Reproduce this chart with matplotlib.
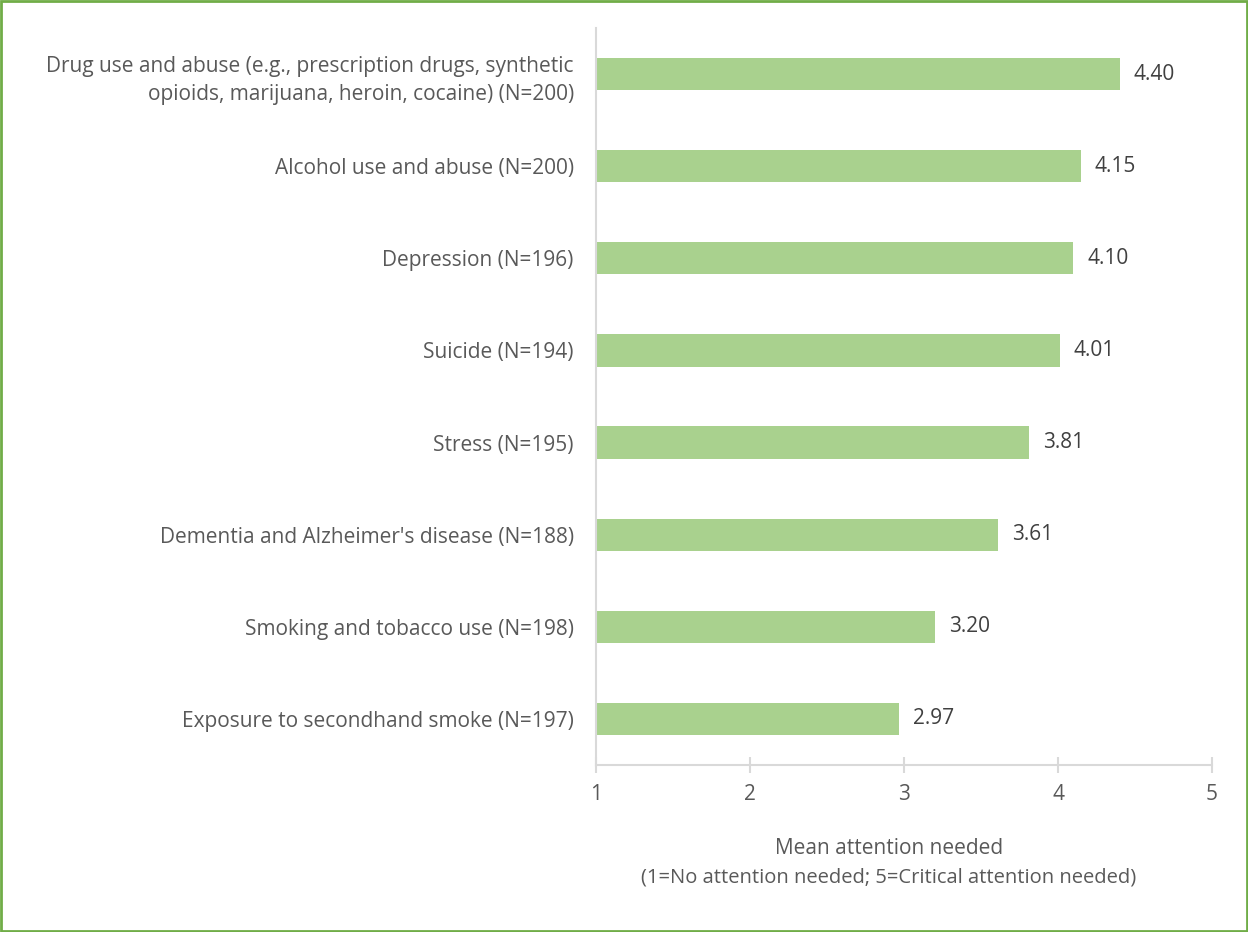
import matplotlib.pyplot as plt
from matplotlib.patches import Rectangle

# Data: mean attention needed per issue
labels = [
    'Drug use and abuse (e.g., prescription drugs, synthetic\nopioids, marijuana, heroin, cocaine) (N=200)',
    'Alcohol use and abuse (N=200)',
    'Depression (N=196)',
    'Suicide (N=194)',
    'Stress (N=195)',
    "Dementia and Alzheimer's disease (N=188)",
    'Smoking and tobacco use (N=198)',
    'Exposure to secondhand smoke (N=197)',
]
values = [4.40, 4.15, 4.10, 4.01, 3.81, 3.61, 3.20, 2.97]
xticks = [1, 2, 3, 4, 5]

plt.rcParams['font.family'] = ['Open Sans', 'DejaVu Sans']
text_color = '#595959'
axis_color = '#D9D9D9'
fs = 15

fig = plt.figure(figsize=(12.48, 9.32), dpi=100)
ax = fig.add_axes([596 / 1248, 1 - 765 / 932, 616 / 1248, 737 / 932])

ypos = list(range(len(labels)))
ax.barh(ypos, [v - 1 for v in values], left=1, height=0.35, color='#A9D18E')
for y, v in zip(ypos, values):
    ax.text(v + 0.09, y, f'{v:.2f}', va='center', ha='left', fontsize=fs, color='#404040')

ax.set_xlim(1, 5)
ax.set_ylim(len(labels) - 0.5, -0.5)
ax.set_xticks(xticks)
ax.set_xticklabels([str(t) for t in xticks])
ax.set_yticks(ypos)
ax.set_yticklabels(labels, fontsize=fs, color=text_color, linespacing=1.45)

for s in ['top', 'right']:
    ax.spines[s].set_visible(False)
for s in ['left', 'bottom']:
    ax.spines[s].set_color(axis_color)
    ax.spines[s].set_linewidth(1.5)
ax.tick_params(axis='y', length=0, pad=16)
ax.tick_params(axis='x', direction='inout', length=11, width=1.5, color=axis_color,
               labelsize=fs, labelcolor=text_color, pad=8)

fig.text(889 / 1248, 1 - 848 / 932, 'Mean attention needed', ha='center', va='center',
         fontsize=fs, color=text_color)
fig.text(889 / 1248, 1 - 877 / 932, '(1=No attention needed; 5=Critical attention needed)',
         ha='center', va='center', fontsize=14.5, color=text_color)

# green border around the chart area
fig.patches.append(Rectangle((0.001, 0.001), 0.998, 0.998, transform=fig.transFigure,
                             fill=False, edgecolor='#70AD47', linewidth=2))

fig.savefig('out.png', dpi=100)
